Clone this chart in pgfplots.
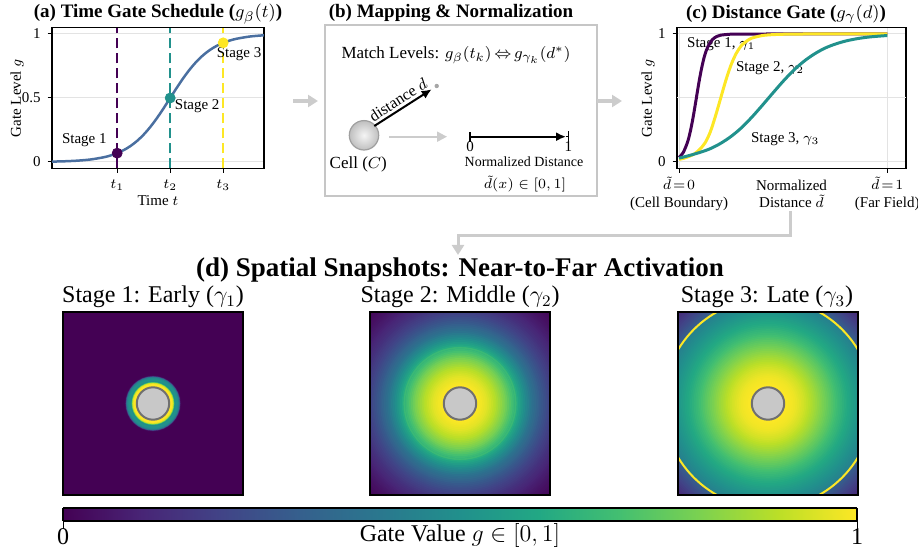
\documentclass[border=0pt]{standalone}
\usepackage{fontspec}
\setmainfont{Liberation Serif}
\usepackage{pgfplots}
\pgfplotsset{compat=1.18}
\usetikzlibrary{arrows.meta}
\definecolor{vpurple}{HTML}{440154}
\definecolor{vteal}{HTML}{21918C}
\definecolor{vyellow}{HTML}{FDE725}
\definecolor{vgreen}{HTML}{43BF71}
\definecolor{curveblue}{HTML}{4A6FA0}
\definecolor{arrowgray}{HTML}{CCCCCC}
\definecolor{cellgray}{HTML}{C8C8C8}
\definecolor{cellborder}{HTML}{707070}
\pgfplotsset{colormap={vir}{rgb255=(68,1,84) rgb255=(72,37,118) rgb255=(65,68,135) rgb255=(53,96,141) rgb255=(42,120,142) rgb255=(33,144,140) rgb255=(34,168,132) rgb255=(67,191,113) rgb255=(122,209,81) rgb255=(187,223,39) rgb255=(253,231,37)}}
\pgfplotsset{
  lineplot/.style={scale only axis, anchor=north west,
    axis line style={black, line width=0.6pt},
    tick style={black, line width=0.5pt}, tick align=outside, major tick length=2.2pt,
    tick pos=left,
    grid style={draw=gray!22, line width=0.5pt},
    ticklabel style={font=\fontsize{7.5}{8.5}\selectfont},
    label style={font=\fontsize{7.5}{8.5}\selectfont},
    /pgf/number format/assume math mode=true},
  snap/.style={scale only axis, anchor=north west, width=90pt, height=91.5pt,
    xmin=-1, xmax=1, ymin=-1, ymax=1, xtick=\empty, ytick=\empty,
    axis line style={black, line width=0.8pt}, colormap name=vir,
    point meta min=0, point meta max=1, clip marker paths=true, axis on top},
  rings/.style={scatter, only marks, mark=*, point meta=explicit,
    scatter/use mapped color={draw=mapped color, fill=mapped color},
    visualization depends on={\thisrow{r}*45 \as \ringrad},
    scatter/@pre marker code/.append style={/tikz/mark size=\ringrad},
    mark options={line width=0.5pt}},
  cell/.style={only marks, mark=*, mark size=8.1pt,
    mark options={fill=cellgray, draw=cellborder, line width=1pt}},
}
\begin{document}
\begin{tikzpicture}
\path[use as bounding box] (0,0) rectangle (459pt,-275.5pt);

% ---------------- (a) ----------------
\begin{axis}[lineplot, at={(26pt,-13.8pt)}, width=106pt, height=70.4pt,
  xmin=-2.23, xmax=1.77, ymin=-0.05, ymax=1.05,
  xtick={-1,0,1}, xticklabels={$t_1$,$t_2$,$t_3$},
  ytick={0,0.5,1}, yticklabels={0,0.5,1}, ymajorgrids,
  xlabel={Time $t$}, ylabel={Gate Level $g$},
  xlabel style={at={(axis description cs:0.5,0)}, anchor=north, yshift=-10pt},
  ylabel style={at={(axis description cs:-0.165,0.5)}, anchor=center}]
\addplot[vpurple, line width=1pt, dash pattern=on 5pt off 2.5pt] coordinates {(-1,-0.05) (-1,1.05)};
\addplot[vteal, line width=1pt, dash pattern=on 5pt off 2.5pt] coordinates {(0,-0.05) (0,1.05)};
\addplot[vyellow, line width=1pt, dash pattern=on 5pt off 2.5pt] coordinates {(1,-0.05) (1,1.05)};
\addplot[curveblue, line width=1.25pt, smooth] coordinates {
(-2.23,0.0030) (-2.0,0.0055) (-1.75,0.0105) (-1.5,0.0198) (-1.25,0.0373) (-1.125,0.0510)
(-1.0,0.0691) (-0.875,0.0932) (-0.75,0.1245) (-0.625,0.1645) (-0.5,0.2142) (-0.375,0.2739)
(-0.25,0.3430) (-0.125,0.4194) (0,0.5) (0.125,0.5806) (0.25,0.6570) (0.375,0.7261)
(0.5,0.7858) (0.625,0.8355) (0.75,0.8755) (0.875,0.9068) (1.0,0.9309) (1.125,0.9490)
(1.25,0.9627) (1.5,0.9802) (1.77,0.9901)};
\addplot[only marks, mark=*, mark size=2.5pt, vpurple] coordinates {(-1,0.0691)};
\addplot[only marks, mark=*, mark size=2.5pt, vteal] coordinates {(0,0.5)};
\addplot[only marks, mark=*, mark size=2.5pt, vyellow] coordinates {(1,0.9309)};
\node[font=\fontsize{7.5}{9}\selectfont] at (axis cs:-1.62,0.17) {Stage 1};
\node[font=\fontsize{7.5}{9}\selectfont] at (axis cs:0.51,0.44) {Stage 2};
\node[font=\fontsize{7.5}{9}\selectfont] at (axis cs:1.30,0.84) {Stage 3};
\end{axis}

% ---------------- (c) ----------------
\begin{axis}[lineplot, at={(338.5pt,-13.8pt)}, width=114.5pt, height=70.4pt,
  xmin=-0.01, xmax=1.09, ymin=-0.05, ymax=1.05,
  xtick={0,1}, xticklabels={{$\tilde{d}\!=\!0$\\(Cell Boundary)},{$\tilde{d}\!=\!1$\\(Far Field)}},
  xticklabel style={align=center, yshift=1.5pt, font=\fontsize{7.5}{8.8}\selectfont},
  ytick={0,1}, yticklabels={0,1},
  extra y ticks={0.5}, extra y tick labels={}, extra y tick style={major tick length=0pt},
  grid=major,
  xlabel={Normalized\\Distance $\tilde{d}$},
  xlabel style={align=center, at={(axis description cs:0.5,0)}, anchor=north, yshift=-2.2pt, font=\fontsize{7.5}{8.8}\selectfont},
  ylabel={Gate Level $g$},
  ylabel style={at={(axis description cs:-0.127,0.5)}, anchor=center}]
\node[font=\fontsize{7.5}{9}\selectfont, anchor=west] at (axis cs:0.005,0.92) {Stage 1, $\gamma_1$};
\node[font=\fontsize{7.5}{9}\selectfont] at (axis cs:0.4375,0.73) {Stage 2, $\gamma_2$};
\node[font=\fontsize{7.5}{9}\selectfont] at (axis cs:0.51,0.177) {Stage 3, $\gamma_3$};
\addplot[vpurple, line width=1.5pt, smooth] coordinates {
(0,0.035) (0.02,0.0745) (0.04,0.152) (0.05,0.211) (0.06,0.285) (0.07,0.373) (0.08,0.470)
(0.09,0.570) (0.10,0.664) (0.11,0.746) (0.12,0.815) (0.13,0.868) (0.14,0.907) (0.16,0.956)
(0.18,0.980) (0.20,0.991) (0.25,0.9987) (0.30,0.9998) (0.5,1) (1,1)};
\addplot[vyellow, line width=1.5pt, smooth] coordinates {
(0,0.02) (0.025,0.03) (0.05,0.045) (0.075,0.065) (0.1,0.10) (0.125,0.15) (0.15,0.235)
(0.175,0.36) (0.2,0.5) (0.225,0.64) (0.25,0.76) (0.275,0.85) (0.3,0.91) (0.325,0.945)
(0.35,0.968) (0.4,0.988) (0.45,0.995) (0.5,0.998) (0.6,1) (1,1)};
\addplot[vteal, line width=1.5pt, smooth] coordinates {
(0,0.03) (0.05,0.051) (0.1,0.075) (0.15,0.104) (0.2,0.146) (0.25,0.200) (0.3,0.268)
(0.35,0.351) (0.4,0.443) (0.45,0.538) (0.5,0.631) (0.55,0.716) (0.6,0.787) (0.65,0.844)
(0.7,0.889) (0.75,0.921) (0.8,0.945) (0.85,0.962) (0.9,0.974) (0.95,0.982) (1.0,0.988)};
\end{axis}

% ---------------- (b) diagram, titles and connectors ----------------
\begin{scope}[x=0.5pt,y=-0.5pt]
\node[font=\bfseries\fontsize{9.5}{11}\selectfont] at (158,14) {(a) Time Gate Schedule ($g_\beta(t)$)};
\node[font=\bfseries\fontsize{9.5}{11}\selectfont] at (786,14) {(c) Distance Gate ($g_\gamma(d)$)};
\draw[gray!45, line width=0.7pt] (325,25) rectangle (597,196);
\node[font=\bfseries\fontsize{9.5}{11}\selectfont] at (451,13) {(b) Mapping \& Normalization};
\node[font=\fontsize{8.5}{10}\selectfont] at (456,55) {Match Levels: $g_\beta(t_k)\,{\Leftrightarrow}\,g_{\gamma_k}(d^*)$};
\shadedraw[inner color=gray!8, outer color=gray!50, draw=gray!75, line width=0.6pt] (364,135.3) circle[radius=14.7];
\draw[-{Latex[length=5pt,width=4.5pt]}, line width=1pt] (374.3,126) -- (431.7,89.3);
\fill[gray!70] (436.7,86) circle[radius=2.2];
\node[rotate=32.6, font=\fontsize{8}{10}\selectfont] at (398,100) {distance $d$};
\draw[-{Triangle[length=5pt,width=5pt]}, arrowgray, line width=1pt] (389,136.7) -- (447,136.7);
\draw[{Bar[width=5pt]}-{Latex[length=5pt,width=4.5pt]}, line width=0.9pt] (469.3,136.7) -- (566,136.7);
\draw[line width=0.6pt] (566,136.7) -- (568.3,136.7) (568.3,131.5) -- (568.3,142);
\node[font=\fontsize{7.5}{9}\selectfont] at (470,147) {0};
\node[font=\fontsize{7.5}{9}\selectfont] at (568.3,147) {1};
\node[font=\fontsize{7}{8}\selectfont] at (524,162) {Normalized Distance};
\node[font=\fontsize{7}{8}\selectfont] at (525,184) {$\tilde{d}(x)\in[0,1]$};
\node[font=\fontsize{8.5}{10}\selectfont] at (358.3,164) {Cell ($C$)};
\draw[-{Triangle[length=5pt,width=6pt]}, arrowgray, line width=1.6pt] (293,101) -- (318,101);
\draw[-{Triangle[length=5pt,width=6pt]}, arrowgray, line width=1.6pt] (597,101) -- (622,101);
\draw[-{Triangle[length=5pt,width=6pt]}, arrowgray, line width=1.5pt] (790,211) -- (790,236) -- (458,236) -- (458,255);
\node[font=\bfseries\fontsize{13.5}{16}\selectfont] at (460,270) {(d) Spatial Snapshots: Near-to-Far Activation};
\node[font=\fontsize{12}{14}\selectfont] at (153,297) {Stage 1: Early ($\gamma_1$)};
\node[font=\fontsize{12}{14}\selectfont] at (460,297) {Stage 2: Middle ($\gamma_2$)};
\node[font=\fontsize{12}{14}\selectfont] at (767,297) {Stage 3: Late ($\gamma_3$)};
\node[font=\fontsize{12}{14}\selectfont] at (460,536) {Gate Value $g\in[0,1]$};
\end{scope}

% ---------------- (d) snapshots ----------------
\begin{axis}[snap, at={(31.5pt,-156pt)}]
\addplot[rings] table[x expr=0, y expr=0, meta=g] {
r g
1.50 0.000
0.31 0.010
0.30 0.100
0.295 0.250
0.29 0.400
0.28 0.480
0.27 0.500
0.26 0.520
0.25 0.500
0.24 0.460
0.235 0.600
0.23 0.750
0.225 0.880
0.22 0.960
0.21 1.000
0.20 1.000
};
\addplot[cell] coordinates {(0,0)};
\end{axis}

\begin{axis}[snap, at={(185pt,-156pt)}]
\addplot[rings] table[x expr=0, y expr=0, meta=g] {
r g
1.44 0.010
1.42 0.016
1.40 0.021
1.38 0.027
1.36 0.033
1.34 0.039
1.32 0.044
1.30 0.050
1.28 0.058
1.26 0.066
1.24 0.074
1.22 0.082
1.20 0.090
1.18 0.100
1.16 0.110
1.14 0.120
1.12 0.130
1.10 0.140
1.08 0.152
1.06 0.164
1.04 0.176
1.02 0.188
1.00 0.200
0.98 0.216
0.96 0.232
0.94 0.248
0.92 0.264
0.90 0.280
0.88 0.300
0.86 0.320
0.84 0.340
0.82 0.360
0.80 0.380
0.78 0.408
0.76 0.436
0.74 0.464
0.72 0.492
0.70 0.520
0.68 0.552
0.66 0.584
0.64 0.616
0.62 0.648
0.60 0.680
0.58 0.704
0.56 0.728
0.54 0.752
0.52 0.776
0.50 0.800
0.48 0.818
0.46 0.836
0.44 0.854
0.42 0.872
0.40 0.890
0.38 0.904
0.36 0.918
0.34 0.932
0.32 0.946
0.30 0.960
0.28 0.968
0.26 0.976
0.24 0.984
0.22 0.992
0.20 1.000
};
\addplot[only marks, mark=o, mark size=27.9pt, vgreen, line width=0.8pt, opacity=0.5] coordinates {(0,0)};
\addplot[cell] coordinates {(0,0)};
\end{axis}

\begin{axis}[snap, at={(339pt,-156pt)}]
\addplot[rings] table[x expr=0, y expr=0, meta=g] {
r g
1.44 0.100
1.42 0.114
1.40 0.129
1.38 0.143
1.36 0.157
1.34 0.171
1.32 0.186
1.30 0.200
1.28 0.217
1.26 0.233
1.24 0.250
1.22 0.267
1.20 0.283
1.18 0.300
1.16 0.430
1.14 0.442
1.12 0.453
1.10 0.465
1.08 0.478
1.06 0.491
1.04 0.504
1.02 0.517
1.00 0.530
0.98 0.543
0.96 0.556
0.94 0.569
0.92 0.582
0.90 0.595
0.88 0.609
0.86 0.623
0.84 0.637
0.82 0.651
0.80 0.665
0.78 0.680
0.76 0.695
0.74 0.710
0.72 0.725
0.70 0.740
0.68 0.754
0.66 0.768
0.64 0.782
0.62 0.796
0.60 0.810
0.58 0.823
0.56 0.836
0.54 0.849
0.52 0.862
0.50 0.875
0.48 0.887
0.46 0.899
0.44 0.911
0.42 0.923
0.40 0.935
0.38 0.944
0.36 0.953
0.34 0.962
0.32 0.971
0.30 0.980
0.28 0.984
0.26 0.988
0.24 0.992
0.22 0.996
0.20 1.000
};
\addplot[only marks, mark=o, mark size=52.4pt, vyellow, line width=1pt] coordinates {(0,0)};
\addplot[cell] coordinates {(0,0)};
\end{axis}

% ---------------- colorbar ----------------
\begin{axis}[scale only axis, anchor=north west, at={(31.5pt,-254pt)}, width=397pt, height=6.5pt,
  view={0}{90}, xmin=0, xmax=1, ymin=0, ymax=1, colormap name=vir,
  point meta min=0, point meta max=1,
  ytick=\empty, ztick=\empty, xtick={0,1}, xticklabels={0,1}, tick align=outside, xtick pos=left,
  major tick length=4pt, tick style={black, line width=0.5pt},
  axis line style={black, line width=0.8pt}, axis on top,
  xticklabel style={font=\fontsize{12}{13}\selectfont, inner sep=0.5pt, yshift=1pt}]
\addplot3[surf, shader=interp, mesh/cols=21, point meta=x] coordinates {
(0,0,0) (0.05,0,0) (0.1,0,0) (0.15,0,0) (0.2,0,0) (0.25,0,0) (0.3,0,0) (0.35,0,0) (0.4,0,0) (0.45,0,0) (0.5,0,0)
(0.55,0,0) (0.6,0,0) (0.65,0,0) (0.7,0,0) (0.75,0,0) (0.8,0,0) (0.85,0,0) (0.9,0,0) (0.95,0,0) (1,0,0)
(0,1,0) (0.05,1,0) (0.1,1,0) (0.15,1,0) (0.2,1,0) (0.25,1,0) (0.3,1,0) (0.35,1,0) (0.4,1,0) (0.45,1,0) (0.5,1,0)
(0.55,1,0) (0.6,1,0) (0.65,1,0) (0.7,1,0) (0.75,1,0) (0.8,1,0) (0.85,1,0) (0.9,1,0) (0.95,1,0) (1,1,0)};
\end{axis}
\end{tikzpicture}
\end{document}
